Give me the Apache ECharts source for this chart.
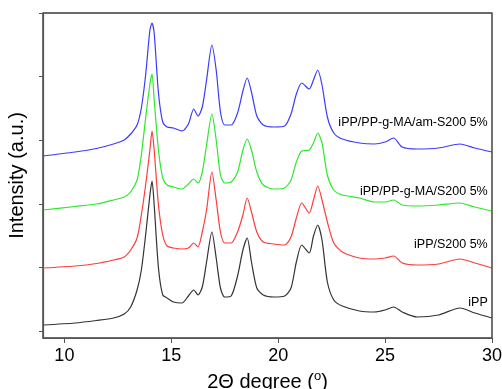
<!DOCTYPE html>
<html>
<head>
<meta charset="utf-8">
<script src="https://cdn.jsdelivr.net/npm/echarts@6/dist/echarts.min.js"></script>
<style>
html,body{margin:0;padding:0;background:#fff;}
#chart{width:502px;height:389px;}
</style>
</head>
<body>
<div id="chart"></div>
<script>
// 2-theta positions (degrees)
const twoTheta = [9.0,10.5,11.5,12.3,12.8,13.1,13.4,13.6,13.8,14.0,
  14.1,14.2,14.4,14.6,14.8,15.1,15.5,15.8,16.05,16.25,
  16.45,16.65,16.9,17.1,17.3,17.5,17.8,18.1,18.35,18.55,
  18.75,19.0,19.3,19.8,20.3,20.6,20.85,21.1,21.45,21.65,
  21.85,22.05,22.3,22.6,23.0,23.8,24.5,25.0,25.4,25.8,
  26.5,27.5,28.5,29.2,30.0];

// Intensities (a.u., stacked offsets included)
const iPP = [6,8,10.5,13,17,24,41,61,96,136,
  150,126,63,36,33,29,28,35,41,36,
  44,69,99,73,43,34,35,55,81,93,
  69,43,36,34,35,43,69,86,78,95,
  106,91,49,31,25,20,19,21,24,19,
  14,16,23,18,13];
const iPP_S200 = [63,65,67.5,71,74,81,93,116,146,181,
  200,181,126,96,85,83,82,83,88,84,
  99,121,159,131,99,88,88,99,116,133,
  119,99,89,87,86,94,113,128,118,131,
  145,131,109,88,79,73,72,73,75,68,
  66,67,72,68,63];
const iPP_MA_S200 = [121,124.5,127,131,134,139,151,176,213,247,
  257,231,181,153,146,144,142,147,152,148,
  159,186,217,191,156,148,149,159,181,192,
  181,159,146,142,143,151,169,180,181,188,
  198,188,156,141,136,133,129,129,131,126,
  125,126,128,124,120];
const iPP_MA_amS200 = [175,179,182.5,187,191,197,206,223,256,301,
  308,298,238,209,204,203,200,207,222,215,
  224,251,286,261,219,206,206,218,240,253,
  239,215,206,204,205,217,237,248,242,251,
  261,246,214,198,192,188,187,189,193,184,
  182,183,187,183,179];

const seriesNames = ['iPP','iPP/S200 5%','iPP/PP-g-MA/S200 5%','iPP/PP-g-MA/am-S200 5%'];
const xTicks = [10,15,20,25,30];
const yTicks = [0,63.6,127.2,190.8,254.4,318];

const curves = [iPP, iPP_S200, iPP_MA_S200, iPP_MA_amS200];
const colors = ['#333333','#ff3b3b','#2ee82e','#3b3bff'];
const labelY = [28, 86, 139, 208];

function pairs(ys){ return twoTheta.map((x,i)=>[x, ys[i]]); }

const chart = echarts.init(document.getElementById('chart'), null, {renderer:'canvas'});
const font = 'Liberation Sans, Arial, sans-serif';
const axisColor = '#555';
chart.setOption({
  animation:false,
  backgroundColor:'#fff',
  grid:{left:43,right:10,top:13,bottom:51,containLabel:false,outerBoundsMode:'none',
    show:true,borderColor:axisColor,borderWidth:1,backgroundColor:'rgba(0,0,0,0)'},
  xAxis:{
    type:'value',min:9,max:30,
    name:'2\u0398 degree ({sup|o})',
    nameLocation:'middle',nameGap:32,
    nameTextStyle:{fontSize:20,color:'#000',fontFamily:font,lineHeight:24,
      rich:{sup:{fontSize:13,lineHeight:13,verticalAlign:'top',color:'#000',fontFamily:font}}},
    axisLine:{show:true,onZero:false,lineStyle:{color:axisColor,width:1.2}},
    axisTick:{show:true,inside:false,length:5,customValues:xTicks,lineStyle:{color:axisColor,width:1}},
    axisLabel:{customValues:xTicks,fontSize:18,color:'#000',fontFamily:font,margin:9},
    splitLine:{show:false}
  },
  yAxis:{
    type:'value',min:-7,max:318,
    name:'Intensity (a.u.)',
    nameLocation:'middle',nameGap:16,
    nameTextStyle:{fontSize:20,color:'#000',fontFamily:font},
    axisLine:{show:true,onZero:false,lineStyle:{color:axisColor,width:1.2}},
    axisTick:{show:true,inside:false,length:4,customValues:yTicks,lineStyle:{color:axisColor,width:1}},
    axisLabel:{show:false,customValues:yTicks},
    splitLine:{show:false}
  },
  series: curves.map((c,i)=>({
    type:'line',
    name:seriesNames[i],
    data:pairs(c),
    showSymbol:false,
    smooth:0.25,
    lineStyle:{color:colors[i],width:1.2},
    z:2+i,
    markPoint:{
      symbol:'rect',symbolSize:1,
      itemStyle:{color:'rgba(0,0,0,0)'},
      label:{show:true,position:'inside',align:'right',verticalAlign:'middle',
        formatter:seriesNames[i],fontSize:12.5,color:'#000',fontFamily:font},
      data:[{coord:[29.8,labelY[i]]}]
    }
  }))
});
// Plot frame drawn from the axis extents through the grid's scales
const pMin = chart.convertToPixel({gridIndex:0},[9,-7]);
const pMax = chart.convertToPixel({gridIndex:0},[30,318]);
chart.setOption({
  graphic:[{type:'rect',silent:true,z:10,
    shape:{x:pMin[0],y:pMax[1],width:pMax[0]-pMin[0],height:pMin[1]-pMax[1]},
    style:{fill:'none',stroke:axisColor,lineWidth:1.3}}]
});
</script>
</body>
</html>
